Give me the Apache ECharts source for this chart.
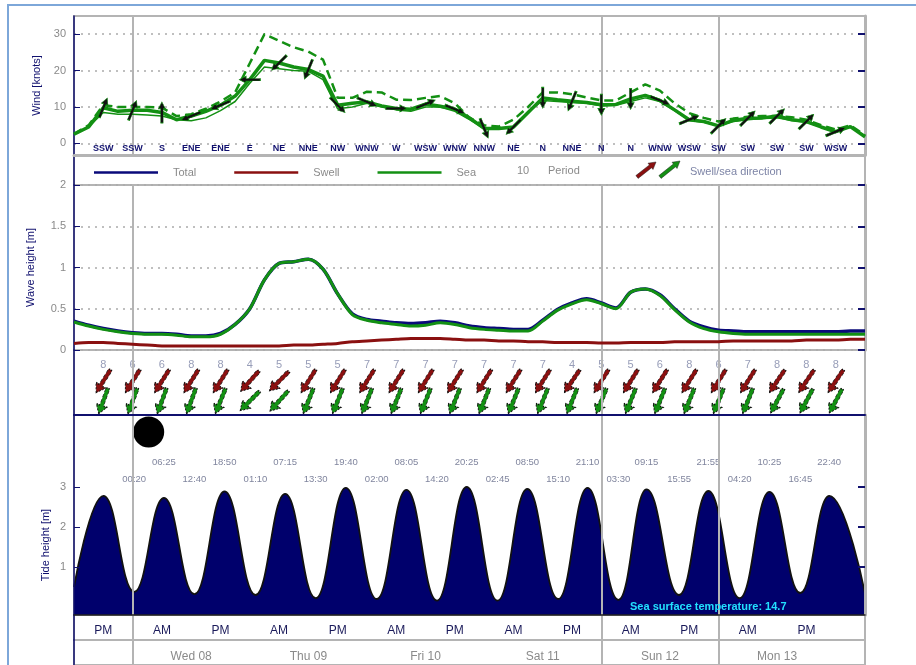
<!DOCTYPE html>
<html><head><meta charset="utf-8">
<script src="https://cdn.jsdelivr.net/npm/echarts@6/dist/echarts.min.js"></script>
<style>html,body{margin:0;padding:0;background:#fff}#c{width:916px;height:665px}</style>
</head><body><div id="c"></div>
<script>
// ================= DATA =================
// time axis: hours relative to Wed 08 00:00
const windHours = [-12,-9,-6,-3,0,3,6,9,12,15,18,21,24,27,30,33,36,39,42,45,48,51,54,57,60,63,66,69,72,75,78,81,84,87,90,93,96,99,102,105,108,111,114,117,120,123,126,129,132,135,138,141,144,147,150];
const windSpeed = [2.5,4.5,9.8,8.8,9.1,9.1,8.5,6.5,7.5,8.8,10.5,13,17.5,22.8,22.1,21,20.3,18.5,10.5,11,11.4,10.3,9.6,9.4,10.8,10.2,9.4,7,4.1,4.1,4.5,8.5,12.5,12,11.6,11.2,10.6,10.7,12.2,13.2,11.8,9.2,6.5,6.0,4.8,6.3,6.9,7,7.5,6.5,6,4.5,3.2,4.6,1.8];
const windAlt   = [2.5,4.5,8.5,8,8,7.8,7.5,6.5,6.2,7,9,11.5,16.5,21,20.5,20,19.8,17.5,9.5,10,11,10,9.2,8.8,10,10,8.8,6.5,4,4,4.3,8.5,11.8,11.5,11.2,11,10.3,10.5,11.5,12.5,11.5,9,6.3,5.8,4.8,6,6.5,6.8,7,6.3,5.8,4.5,3.2,4.5,1.8];
const windGust  = [2.6,5,10.5,10,10,10,9.8,7.5,8,9.5,11.5,14,22,30,28.2,26.4,25.2,23,12.5,12.5,14.2,14,12,11.9,12.5,13,11,7,5,4.6,6.5,10,14,14,13.5,12.6,11.8,11.8,14,16.2,14.5,11,8.3,7,6,6.8,7.3,7.5,7.5,7.2,6.5,5,3.8,5,2.2];

const dirHours = [-6,0,6,12,18,24,30,36,42,48,54,60,66,72,78,84,90,96,102,108,114,120,126,132,138,144];
const windDirLabels = ['SSW','SSW','S','ENE','ENE','E','NE','NNE','NW','WNW','W','WSW','WNW','NNW','NE','N','NNE','N','N','WNW','WSW','SW','SW','SW','SW','WSW'];

const totalWave = [0.35,0.30,0.26,0.23,0.21,0.20,0.20,0.19,0.17,0.17,0.20,0.31,0.50,0.85,1.05,1.07,1.10,0.98,0.68,0.44,0.37,0.35,0.33,0.32,0.33,0.35,0.33,0.29,0.27,0.26,0.25,0.25,0.36,0.49,0.57,0.62,0.57,0.51,0.70,0.74,0.67,0.50,0.35,0.28,0.24,0.23,0.22,0.22,0.22,0.22,0.22,0.22,0.22,0.23,0.23];
const seaWave   = [0.34,0.29,0.25,0.22,0.20,0.19,0.19,0.18,0.16,0.16,0.19,0.31,0.50,0.85,1.05,1.07,1.10,0.98,0.68,0.43,0.36,0.33,0.31,0.29,0.30,0.33,0.31,0.27,0.25,0.24,0.23,0.23,0.35,0.48,0.56,0.61,0.56,0.50,0.70,0.74,0.66,0.49,0.34,0.26,0.22,0.20,0.19,0.19,0.19,0.19,0.19,0.19,0.19,0.19,0.19];
const swellWave = [0.08,0.09,0.09,0.08,0.07,0.06,0.05,0.05,0.05,0.05,0.05,0.05,0.05,0.05,0.05,0.06,0.06,0.07,0.08,0.10,0.11,0.12,0.13,0.14,0.14,0.14,0.13,0.12,0.12,0.11,0.11,0.10,0.10,0.09,0.09,0.09,0.085,0.085,0.09,0.09,0.09,0.10,0.10,0.10,0.10,0.11,0.11,0.11,0.11,0.11,0.12,0.12,0.12,0.13,0.13];

const periodHours = [-6,0,6,12,18,24,30,36,42,48,54,60,66,72,78,84,90,96,102,108,114,120,126,132,138,144];
const periods     = [8,6,6,8,8,4,5,5,5,7,7,7,7,7,7,7,4,5,5,6,8,6,7,8,8,8];
const swellFromDeg = [32,32,32,32,32,42,45,32,32,32,32,32,32,32,32,32,34,32,32,32,32,32,32,34,34,34];
const seaFromDeg   = [20,20,20,20,22,45,42,22,22,22,22,22,22,22,22,22,22,22,22,22,22,22,22,28,28,28];

const tideHours   = [-12,-5.95,0.33,6.42,12.67,18.83,25.17,31.25,37.5,43.67,50,56.08,62.33,68.42,74.75,80.83,87.17,93.17,99.5,105.25,111.92,117.92,124.33,130.42,136.75,142.67,150];
const tideHeights = [0.5,2.78,0.38,2.73,0.32,2.89,0.30,2.83,0.22,2.98,0.20,2.93,0.16,3.0,0.16,2.95,0.20,2.98,0.18,2.94,0.30,2.90,0.22,2.88,0.35,2.78,0.34];
const tideLabels  = ['','','00:20','06:25','12:40','18:50','01:10','07:15','13:30','19:40','02:00','08:05','14:20','20:25','02:45','08:50','15:10','21:10','03:30','09:15','15:55','21:55','04:20','10:25','16:45','22:40',''];
const moonHours = [3.3];

const dayLines = [0, 96, 120];
const ampmHours = [-6,6,18,30,42,54,66,78,90,102,114,126,138];
const ampmLabels = ['PM','AM','PM','AM','PM','AM','PM','AM','PM','AM','PM','AM','PM'];
const dayHours = [12,36,60,84,108,132];
const dayLabels = ['Wed 08','Thu 09','Fri 10','Sat 11','Sun 12','Mon 13'];
const seaTemp = '14.7';

// ================= STYLE =================
const NAVY = '#10106e', GREY = '#b4b4b4', TXT = '#8a8a8a';
const GREEN = '#139013', RED = '#8a1010', TOTAL = '#0a0a7a';
const FONT = 'Liberation Sans, Arial, sans-serif';
const X0 = -12, X1 = 150;
const COMPASS = {N:0,NNE:22.5,NE:45,ENE:67.5,E:90,ESE:112.5,SE:135,SSE:157.5,S:180,SSW:202.5,SW:225,WSW:247.5,W:270,WNW:292.5,NW:315,NNW:337.5};
const ARROW = 'path://M5,0L10,9L6.8,9L6.8,28L3.2,28L3.2,9L0,9Z';
const rotFrom = d => -(d + 180);   // arrow pointing where it goes (CCW degrees)

const gridsDef = [
  {top: 16, height: 139},   // 0 wind
  {top: 155, height: 30},   // 1 legend row
  {top: 185, height: 165},  // 2 wave
  {top: 350, height: 65},   // 3 arrows
  {top: 415, height: 200},  // 4 tide
  {top: 615, height: 25},   // 5 am/pm
  {top: 640, height: 25}    // 6 days
];
const grid = gridsDef.map(g => ({left: 74, right: 51, top: g.top, height: g.height, show: true, borderColor: GREY, borderWidth: 2, backgroundColor: 'transparent'}));

function xAx(gi, extra) {
  const base = {
    type: 'value', gridIndex: gi, min: X0, max: X1, position: 'bottom',
    axisLine: {show: false, onZero: false}, axisTick: {show: false, customValues: dayLines},
    axisLabel: {show: false},
    splitLine: {show: true, lineStyle: {color: GREY, width: 2}}
  };
  const o = Object.assign(base, extra || {});
  o.axisLine = Object.assign({onZero: false}, o.axisLine);
  return o;
}
function yLeft(gi, extra) {
  const o = Object.assign({
    type: 'value', gridIndex: gi, position: 'left',
    axisLine: {show: true, lineStyle: {color: NAVY, width: 1.5}},
    axisTick: {show: false}, axisLabel: {show: false}, splitLine: {show: false}
  }, extra || {});
  o.axisLine = Object.assign({onZero: false}, o.axisLine);
  return o;
}
function yRight(gi, extra) {
  const o = Object.assign({
    type: 'value', gridIndex: gi, position: 'right',
    axisLine: {show: true, lineStyle: {color: GREY, width: 3}},
    axisTick: {show: true, inside: true, length: 7, lineStyle: {color: NAVY, width: 2}},
    axisLabel: {show: false}, splitLine: {show: false}
  }, extra || {});
  o.axisLine = Object.assign({onZero: false}, o.axisLine);
  return o;
}
const dotted = {show: true, lineStyle: {color: '#aaaaaa', width: 1.5, type: [2, 5]}};
const yLab = {show: true, color: TXT, fontSize: 11, fontFamily: FONT, margin: 8};

const xAxis = [
  xAx(0, {axisLine: {show: true, lineStyle: {color: GREY, width: 3}},
          axisLabel: {show: true, inside: true, margin: 2, customValues: dirHours, color: NAVY, fontSize: 9, fontWeight: 'bold', fontFamily: FONT,
                      formatter: v => { const i = dirHours.indexOf(v); return i >= 0 ? windDirLabels[i] : ''; }}}),
  xAx(1, {splitLine: {show: false}}),
  xAx(2),
  xAx(3, {axisLine: {show: true, lineStyle: {color: NAVY, width: 2}}, z: 10}),
  xAx(4, {splitLine: {show: false}, axisLine: {show: true, lineStyle: {color: '#222', width: 1.5}}, z: 10}),
  xAx(5, {axisLabel: {show: true, inside: true, margin: 3, customValues: ampmHours, color: '#1a1a5a', fontSize: 12, fontFamily: FONT,
                      formatter: v => { const i = ampmHours.indexOf(v); return i >= 0 ? ampmLabels[i] : ''; }}}),
  xAx(6, {axisLabel: {show: true, inside: true, margin: 2, customValues: dayHours, color: TXT, fontSize: 12, fontFamily: FONT,
                      formatter: v => { const i = dayHours.indexOf(v); return i >= 0 ? dayLabels[i] : ''; }}})
];

const windTicks = [0, 10, 20, 30];
const tideTicks = [1, 2, 3];
const yAxis = [
  yLeft(0, {min: -3.2, max: 35, name: 'Wind [knots]', nameLocation: 'middle', nameGap: 27, nameTextStyle: {color: NAVY, fontSize: 11, fontFamily: FONT},
            axisTick: {show: true, inside: true, length: 6, customValues: windTicks, lineStyle: {color: NAVY}},
            axisLabel: Object.assign({customValues: windTicks}, yLab), splitLine: dotted}),
  yRight(0, {min: -3.2, max: 35, axisTick: {show: true, inside: true, length: 7, customValues: windTicks, lineStyle: {color: NAVY, width: 2}}}),
  yLeft(1, {min: 0, max: 1}),
  yLeft(2, {min: 0, max: 2, interval: 0.5, name: 'Wave height [m]', nameLocation: 'middle', nameGap: 38, nameTextStyle: {color: NAVY, fontSize: 11, fontFamily: FONT},
            axisTick: {show: true, inside: true, length: 6, lineStyle: {color: NAVY}},
            axisLabel: yLab, splitLine: dotted}),
  yRight(2, {min: 0, max: 2, interval: 0.5}),
  yLeft(3, {min: 0, max: 1}),
  yLeft(4, {min: -0.2, max: 4.8, z: 10,
            axisTick: {show: true, inside: true, length: 6, customValues: tideTicks, lineStyle: {color: NAVY}},
            axisLabel: Object.assign({customValues: tideTicks}, yLab)}),
  yRight(4, {min: -0.2, max: 4.8, z: 10, axisTick: {show: true, inside: true, length: 7, customValues: tideTicks, lineStyle: {color: NAVY, width: 2}}}),
  yLeft(5, {min: 0, max: 1}),
  yLeft(6, {min: 0, max: 1})
];
// yAxis index lookup per grid
const YI = {wind: 0, wave: 3, arrows: 5, tide: 6};

const zip = (xs, ys) => xs.map((x, i) => [x, ys[i]]);
const speedAt = h => windSpeed[windHours.indexOf(h)];

const series = [
  {name: 'Gust', type: 'line', xAxisIndex: 0, yAxisIndex: YI.wind, data: zip(windHours, windGust), symbol: 'none',
   lineStyle: {color: GREEN, width: 2.5, type: [9, 5]}},
  {name: 'Wind (alt)', type: 'line', xAxisIndex: 0, yAxisIndex: YI.wind, data: zip(windHours, windAlt), symbol: 'none',
   lineStyle: {color: GREEN, width: 1.5}},
  {name: 'Wind', type: 'line', xAxisIndex: 0, yAxisIndex: YI.wind, data: zip(windHours, windSpeed), symbol: 'none',
   lineStyle: {color: GREEN, width: 3.5}},
  {name: 'Wind direction', type: 'scatter', xAxisIndex: 0, yAxisIndex: YI.wind, z: 4,
   data: dirHours.map((h, i) => ({value: [h, speedAt(h)], symbolRotate: rotFrom(COMPASS[windDirLabels[i]])})),
   symbol: ARROW, symbolSize: [7, 21], itemStyle: {color: '#111', opacity: 1, borderColor: GREEN, borderWidth: 0.6}},

  {name: 'Total', type: 'line', xAxisIndex: 2, yAxisIndex: YI.wave, data: zip(windHours, totalWave), symbol: 'none', smooth: 0.3,
   lineStyle: {color: TOTAL, width: 3.5}, itemStyle: {color: TOTAL}},
  {name: 'Sea', type: 'line', xAxisIndex: 2, yAxisIndex: YI.wave, data: zip(windHours, seaWave), symbol: 'none', smooth: 0.3,
   lineStyle: {color: GREEN, width: 3}, itemStyle: {color: GREEN}},
  {name: 'Swell', type: 'line', xAxisIndex: 2, yAxisIndex: YI.wave, data: zip(windHours, swellWave), symbol: 'none', smooth: 0.3,
   lineStyle: {color: RED, width: 3}, itemStyle: {color: RED}},

  {name: 'Period', type: 'scatter', xAxisIndex: 3, yAxisIndex: YI.arrows, symbolSize: 1, itemStyle: {color: 'rgba(0,0,0,0)'},
   data: periodHours.map((h, i) => [h, 0.77, periods[i]]),
   label: {show: true, position: 'inside', formatter: p => p.value[2], color: '#7d84a6', fontSize: 11, fontFamily: FONT}},
  {name: 'Swell direction', type: 'scatter', xAxisIndex: 3, yAxisIndex: YI.arrows, symbol: ARROW, symbolSize: [11, 27],
   data: periodHours.map((h, i) => ({value: [h, 0.52], symbolRotate: rotFrom(swellFromDeg[i])})),
   itemStyle: {color: RED, opacity: 1, borderColor: '#111', borderWidth: 1, borderType: [2, 1.5]}},
  {name: 'Sea direction', type: 'scatter', xAxisIndex: 3, yAxisIndex: YI.arrows, symbol: ARROW, symbolSize: [11, 27],
   data: periodHours.map((h, i) => ({value: [h, 0.215], symbolRotate: rotFrom(seaFromDeg[i])})),
   itemStyle: {color: GREEN, opacity: 1, borderColor: '#111', borderWidth: 1, borderType: [2, 1.5]}},

  {name: 'Tide', type: 'line', xAxisIndex: 4, yAxisIndex: YI.tide, data: zip(tideHours, tideHeights), symbol: 'none',
   smooth: 0.45, smoothMonotone: 'x',
   lineStyle: {color: '#111', width: 1.8}, areaStyle: {color: '#00006c', opacity: 1, origin: 'start'},
   markLine: {silent: true, symbol: 'none', label: {show: false}, lineStyle: {color: GREY, width: 2, type: 'solid'},
              data: dayLines.map(h => ({xAxis: h}))}},
  {name: 'Tide times', type: 'scatter', xAxisIndex: 4, yAxisIndex: YI.tide, symbolSize: 1, itemStyle: {color: 'rgba(0,0,0,0)'},
   data: tideHours.map((h, i) => [h, tideHeights[i] > 1.5 ? 3.625 : 3.2, tideLabels[i]]).filter(d => d[2] !== ''),
   label: {show: true, position: 'inside', formatter: p => p.value[2], color: '#5f6585', fontSize: 9.5, fontFamily: FONT}},
  {name: 'Moon', type: 'scatter', xAxisIndex: 4, yAxisIndex: YI.tide, symbol: 'circle', symbolSize: 31,
   data: moonHours.map(h => [h, 4.375]), itemStyle: {color: '#000', opacity: 1}}
];

function arrowPoly(x0, y0, x1, y1, w, hw, hl) {
  const dx = x1 - x0, dy = y1 - y0, L = Math.hypot(dx, dy), ux = dx / L, uy = dy / L, nx = -uy, ny = ux;
  const bx = x1 - ux * hl, by = y1 - uy * hl;
  return [[x0 + nx * w, y0 + ny * w], [bx + nx * w, by + ny * w], [bx + nx * hw, by + ny * hw], [x1, y1],
          [bx - nx * hw, by - ny * hw], [bx - nx * w, by - ny * w], [x0 - nx * w, y0 - ny * w]];
}

const option = {
  backgroundColor: '#fff',
  animation: false,
  textStyle: {fontFamily: FONT},
  grid, xAxis, yAxis, series,
  legend: {data: ['Total', 'Swell', 'Sea'], left: 89, top: 162, icon: 'rect', itemWidth: 64, itemHeight: 2.5, itemGap: 38,
           selectedMode: false, textStyle: {color: TXT, fontSize: 11, fontFamily: FONT, padding: [0, 0, 0, 10]}},
  graphic: [
    {type: 'rect', shape: {x: 8, y: 5, width: 1000, height: 700}, style: {fill: 'none', stroke: '#7da7d9', lineWidth: 2}, silent: true},
    {type: 'text', x: 517, y: 171, style: {text: '10', fill: TXT, font: '11px ' + FONT, verticalAlign: 'middle'}},
    {type: 'text', x: 548, y: 171, style: {text: 'Period', fill: TXT, font: '11px ' + FONT, verticalAlign: 'middle'}},
    {type: 'polygon', shape: {points: arrowPoly(637, 177, 656, 162, 1.8, 4, 7)}, style: {fill: RED, stroke: '#222', lineWidth: 0.5}},
    {type: 'polygon', shape: {points: arrowPoly(660, 177, 680, 161, 1.8, 4, 7)}, style: {fill: GREEN, stroke: '#222', lineWidth: 0.5}},
    {type: 'text', x: 690, y: 172, style: {text: 'Swell/sea direction', fill: '#7d84a6', font: '11px ' + FONT, verticalAlign: 'middle'}},
    {type: 'text', x: 46, y: 545, rotation: Math.PI / 2, style: {text: 'Tide height [m]', fill: NAVY, font: '11px ' + FONT, align: 'center', verticalAlign: 'middle'}},
    {type: 'text', x: 630, y: 607, z: 100, style: {text: 'Sea surface temperature: ' + seaTemp, fill: '#22e0ff', font: 'bold 11px ' + FONT, verticalAlign: 'middle'}}
  ]
};

const chart = echarts.init(document.getElementById('c'), null, {renderer: 'canvas'});
chart.setOption(option);
</script>
</body></html>
